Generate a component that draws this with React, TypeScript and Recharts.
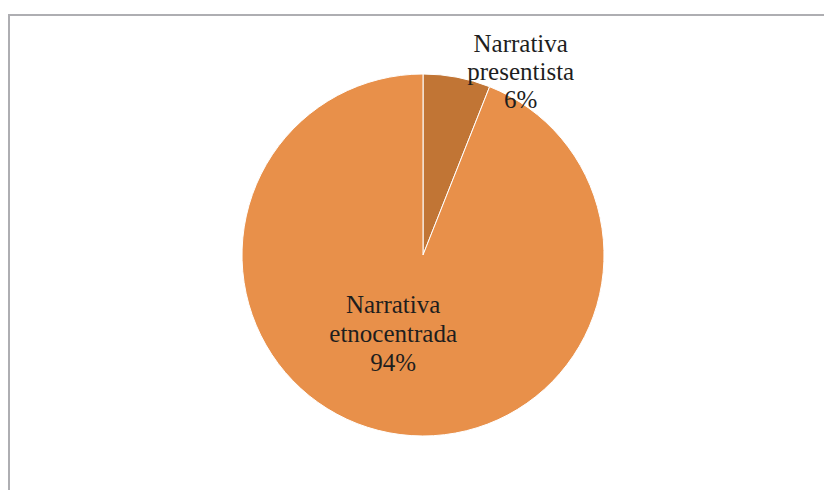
import React from "react";
import { PieChart, Pie, Cell } from "recharts";

const categories = ["Narrativa presentista", "Narrativa etnocentrada"];
const values = [6, 94];
const labelLines = [
  ["Narrativa", "presentista", "6%"],
  ["Narrativa", "etnocentrada", "94%"],
];
const colors = ["#C17535", "#E8904A"];

const data = categories.map((name, i) => ({ name, value: values[i] }));

// label anchor offsets as fractions of the outer radius (dx, dy of middle baseline)
const anchors = [
  [0.54, -0.967],
  [-0.165, 0.48],
];

const serif = "Liberation Serif";

const renderLabel = (props: any) => {
  const { cx, cy, outerRadius, index } = props;
  const [fx, fy] = anchors[index];
  const x = cx + fx * outerRadius;
  const y = cy + fy * outerRadius;
  const lines = labelLines[index];
  const lh = index === 0 ? 28 : 29;
  return (
    <g key={"lbl" + index}>
      {lines.map((l, i) => (
        <text
          key={i}
          x={x}
          y={y + (i - 1) * lh}
          textAnchor="middle"
          fill="#1e1e1e"
          fontFamily={serif}
          fontSize={25}
        >
          {l}
        </text>
      ))}
    </g>
  );
};

export default function App() {
  return (
    <div
      style={{
        position: "absolute",
        left: 0,
        top: 0,
        width: 824,
        height: 490,
        overflow: "hidden",
        background: "#fff",
      }}
    >
      <div
        style={{
          position: "absolute",
          left: 8,
          top: 14,
          width: 1000,
          height: 1000,
          border: "2px solid #AEAEB2",
          boxSizing: "border-box",
        }}
      />
      <div style={{ position: "absolute", left: 0, top: 0 }}>
        <PieChart
          width={824}
          height={490}
          margin={{ top: 0, right: 0, bottom: 0, left: 0 }}
        >
          <Pie
            data={data}
            dataKey="value"
            nameKey="name"
            cx={423}
            cy={255}
            outerRadius={181}
            startAngle={90}
            endAngle={-270}
            stroke="#fff"
            strokeWidth={1}
            label={renderLabel}
            labelLine={false}
            isAnimationActive={false}
          >
            {data.map((d, i) => (
              <Cell key={d.name} fill={colors[i]} />
            ))}
          </Pie>
        </PieChart>
      </div>
    </div>
  );
}
